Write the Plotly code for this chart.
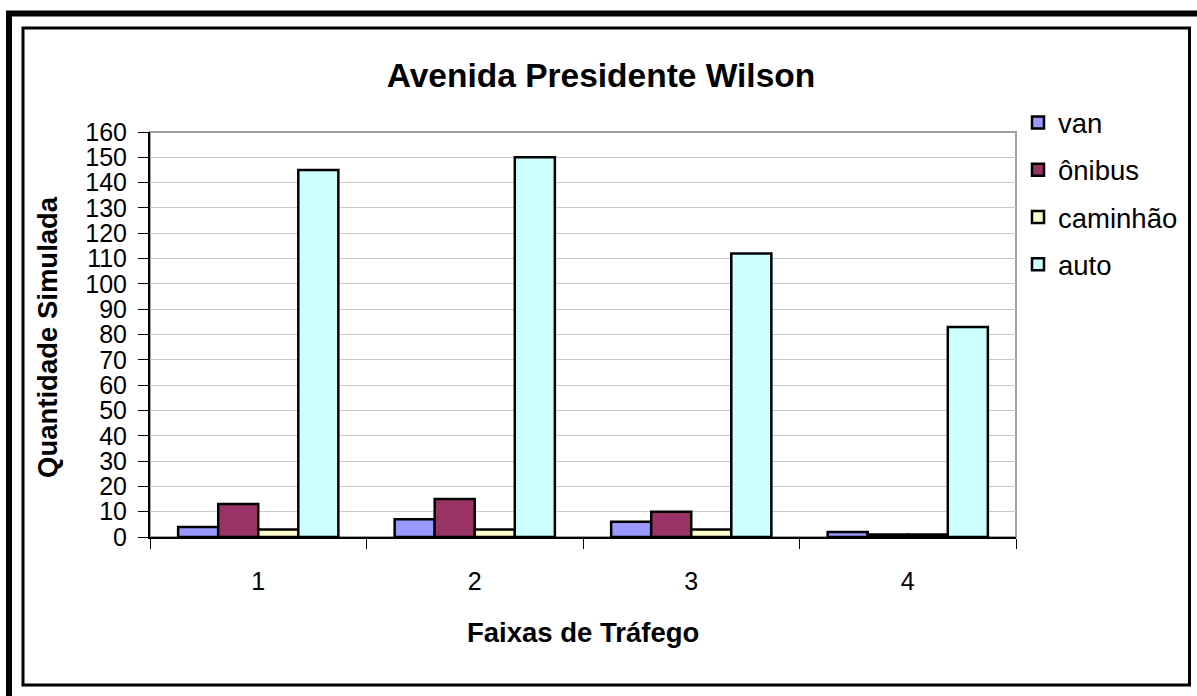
import plotly.graph_objects as go

categories = ["1", "2", "3", "4"]
van = [4, 7, 6, 2]
onibus = [13, 15, 10, 1]
caminhao = [3, 3, 3, 1]
auto = [145, 150, 112, 83]
series_names = ["van", "ônibus", "caminhão", "auto"]
series_colors = ["#9999FF", "#993366", "#FFFFCC", "#CCFFFF"]
y_ticks = list(range(0, 161, 10))

W, H = 1197, 696
L, R, T, B = 150, 1016, 132, 537
FONT = "Arial, 'Liberation Sans', sans-serif"

def px(x):
    return (x - L) / (R - L)

def py(y):
    return (B - y) / (B - T)

fig = go.Figure()
for name, vals, col in zip(series_names, [van, onibus, caminhao, auto], series_colors):
    fig.add_trace(go.Bar(
        x=categories, y=vals, name=name, legendgroup=name,
        marker=dict(color=col, line=dict(color="black", width=2.5)),
    ))

fig.update_layout(
    width=W, height=H,
    margin=dict(l=L, r=W - R, t=T, b=H - B),
    paper_bgcolor="white", plot_bgcolor="white",
    barmode="group", bargap=0.26, bargroupgap=0,
    font=dict(family=FONT, color="black"),
    title=dict(text="<b>Avenida Presidente Wilson</b>", x=px(601), xref="paper",
               y=1 - 75 / H, yanchor="middle", xanchor="center",
               font=dict(size=33.5, family=FONT, color="black")),
    showlegend=True,
    legend=dict(x=px(1018), y=py(98), xanchor="left", yanchor="top",
                font=dict(size=27.5, family=FONT, color="black"),
                tracegroupgap=8.5, bgcolor="rgba(0,0,0,0)"),
    xaxis=dict(type="category", showline=True, linecolor="black", linewidth=2,
               ticks="outside", tickson="boundaries", ticklen=10, tickcolor="black",
               tickwidth=1, tickfont=dict(size=25), showgrid=False, zeroline=False,
               ticklabelstandoff=21),
    yaxis=dict(range=[0, 160], tickvals=y_ticks, ticktext=[str(v) for v in y_ticks],
               showline=True, linecolor="black", linewidth=2,
               ticks="outside", ticklen=10, tickcolor="black", tickwidth=1,
               tickfont=dict(size=25), showgrid=True, gridcolor="#C8C8C8", gridwidth=1,
               zeroline=False, ticklabelstandoff=6),
    annotations=[
        dict(text="<b>Faixas de Tráfego</b>", x=px(583), y=py(632), xref="paper", yref="paper",
             showarrow=False, xanchor="center", yanchor="middle", font=dict(size=27.5)),
        dict(text="<b>Quantidade Simulada</b>", x=px(47), y=py(337), xref="paper", yref="paper",
             showarrow=False, xanchor="center", yanchor="middle", textangle=-90, font=dict(size=27.5)),
    ],
    shapes=[
        dict(type="rect", xref="paper", yref="paper", x0=0, x1=1, y0=0, y1=1,
             line=dict(color="#A0A0A0", width=2), layer="below"),
        dict(type="rect", xref="paper", yref="paper", x0=px(23), x1=px(1189.5),
             y0=py(685), y1=py(28), line=dict(color="black", width=3)),
        dict(type="line", xref="paper", yref="paper", x0=px(9), x1=px(9),
             y0=py(700), y1=py(11), line=dict(color="black", width=6)),
        dict(type="line", xref="paper", yref="paper", x0=px(6), x1=px(1200),
             y0=py(13.5), y1=py(13.5), line=dict(color="black", width=6)),
    ],
)

fig.write_html("out.html", config={"displayModeBar": False},
               post_script="document.body.style.margin='0';document.body.style.overflow='hidden';")
